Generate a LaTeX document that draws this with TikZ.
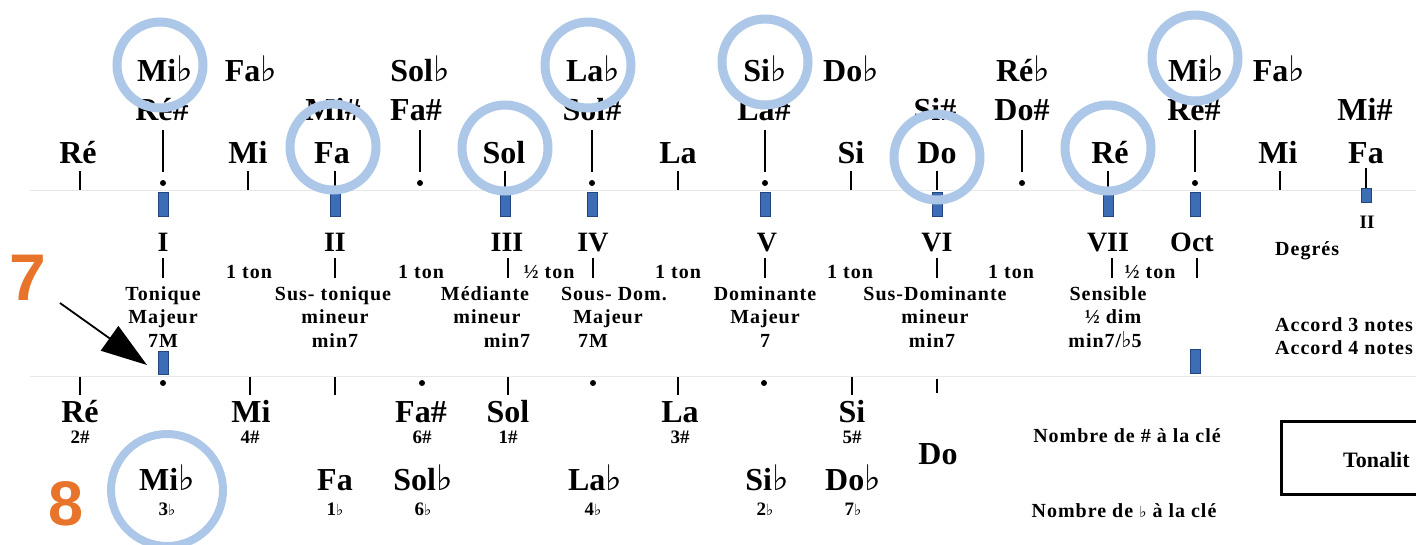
\documentclass[tikz,border=0pt]{standalone}
\usepackage{fontspec}
\setmainfont{Liberation Serif}
\newfontfamily\symf[Scale=1.1]{DejaVu Sans}
\newfontfamily\labf[LetterSpace=5]{Liberation Serif}
\newfontfamily\orf{Liberation Sans}
\usetikzlibrary{arrows.meta}
\definecolor{ringc}{HTML}{ADC7E8}
\definecolor{bluebar}{HTML}{3D6DB5}
\definecolor{bluebd}{HTML}{23457F}
\definecolor{orng}{HTML}{E8732A}
\newcommand\flt{{\symf\bfseries ♭}}
\newcommand\fls{{\symf\bfseries\fontsize{14}{15}\selectfont ♭}}
\begin{document}
\begin{tikzpicture}[x=1pt,y=-1pt,
  nt/.style={font=\bfseries\fontsize{32}{34}\selectfont, anchor=base, inner sep=0pt},
  deg/.style={font=\bfseries\fontsize{28}{30}\selectfont, anchor=base, inner sep=0pt},
  lbl/.style={font=\labf\bfseries\fontsize{20}{22}\selectfont, anchor=base, inner sep=0pt},
  lblw/.style={font=\labf\bfseries\fontsize{20}{22}\selectfont, anchor=base west, inner sep=0pt},
  subl/.style={font=\bfseries\fontsize{19}{20}\selectfont, anchor=base, inner sep=0pt},
  ring/.style={circle, draw=ringc, line width=9pt, inner sep=0pt, minimum size=86pt},
  bbar/.style={rectangle, fill=bluebar, draw=bluebd, line width=0.8pt, inner sep=0pt, minimum width=10pt, minimum height=24pt},
  tick/.style={line width=2.6pt},
  thinl/.style={line width=1.3pt},
  sep/.style={draw=black!9, line width=1pt},
  big/.style={font=\orf\bfseries\fontsize{66}{66}\selectfont, text=orng, anchor=base, inner sep=0pt}
]
\useasboundingbox (0,0) rectangle (1416,544);
\clip (0,0) rectangle (1416,544);
\fill[white] (0,0) rectangle (1416,544);

% faint strip separators
\draw[sep] (30,190) -- (1416,190);
\draw[sep] (30,376) -- (1416,376);

% top row (flats)
\node[nt] (t1) at (165,81) {Mi\flt};
\node[nt] (t2) at (251,81) {Fa\flt};
\node[nt] (t3) at (420,81) {Sol\flt};
\node[nt] (t4) at (593,81) {La\flt};
\node[nt] (t5) at (765,81) {Si\flt};
\node[nt] (t6) at (851,81) {Do\flt};
\node[nt] (t7) at (1023,81) {Ré\flt};
\node[nt] (t8) at (1196,81) {Mi\flt};
\node[nt] (t9) at (1279,81) {Fa\flt};

% second row (sharps)
\node[nt] (s1) at (162,120) {Ré\#};
\node[nt] (s2) at (333,120) {Mi\#};
\node[nt] (s3) at (416,120) {Fa\#};
\node[nt] (s4) at (592,120) {Sol\#};
\node[nt] (s5) at (764,120) {La\#};
\node[nt] (s6) at (935,120) {Si\#};
\node[nt] (s7) at (1022,120) {Do\#};
\node[nt] (s8) at (1194,120) {Ré\#};
\node[nt] (s9) at (1365,120) {Mi\#};

% third row (naturals)
\node[nt] (n1) at (78,163) {Ré};
\node[nt] (n2) at (248,163) {Mi};
\node[nt] (n3) at (332,163) {Fa};
\node[nt] (n4) at (504,163) {Sol};
\node[nt] (n5) at (678,163) {La};
\node[nt] (n6) at (851,163) {Si};
\node[nt] (n7) at (937,163) {Do};
\node[nt] (n8) at (1110,163) {Ré};
\node[nt] (n9) at (1278,163) {Mi};
\node[nt] (n10) at (1366,163) {Fa};

% ticks under naturals
\foreach \x in {80,248,335,505,678,851,937,1108,1280}
  \draw[tick] (\x,171) -- (\x,190);
\draw[tick] (1366,168) -- (1366,188);
% thin lines + dots under sharps
\foreach \x in {163,420,592,765,1022,1195}{
  \draw[thinl] (\x,130) -- (\x,172);
  \fill (\x,183) circle[radius=3pt];
}
% blue bars
\foreach \x in {163,335,505,592,765,937,1108,1195}
  \node[bbar] at (\x,204) {};
\node[bbar, minimum height=14pt] (bfa) at (1366,195) {};

% rings
\node[ring] (c1) at (160,65) {};
\node[ring] (c2) at (333,147) {};
\node[ring] (c3) at (505,148) {};
\node[ring] (c4) at (588,65) {};
\node[ring] (c5) at (765,62) {};
\node[ring] (c6) at (937,157) {};
\node[ring] (c7) at (1108,148) {};
\node[ring] (c8) at (1195,58) {};

% degrees
\node[deg] (d1) at (163,251) {I};
\node[deg] (d2) at (335,251) {II};
\node[deg] (d3) at (507,251) {III};
\node[deg] (d4) at (593,251) {IV};
\node[deg] (d5) at (767,251) {V};
\node[deg] (d6) at (937,251) {VI};
\node[deg] (d7) at (1108,251) {VII};
\node[deg] (d8) at (1192,251) {Oct};
\node[subl] (d9) at (1367,228) {II};
\node[lblw] (degres) at (1275,255) {Degrés};

% interval bars
\foreach \x in {163,335,508,593,765,937,1112,1197}
  \draw[tick] (\x,258) -- (\x,278);
\node[lbl] (i1) at (249,278) {1 ton};
\node[lbl] (i2) at (421,278) {1 ton};
\node[lbl] (i3) at (549,278) {½ ton};
\node[lbl] (i4) at (678,278) {1 ton};
\node[lbl] (i5) at (850,278) {1 ton};
\node[lbl] (i6) at (1011,278) {1 ton};
\node[lbl] (i7) at (1150,278) {½ ton};

% function names
\node[lbl] (f1) at (163,300) {Tonique};
\node[lbl] (f2) at (333,300) {Sus- tonique};
\node[lbl] (f3) at (485,300) {Médiante};
\node[lbl] (f4) at (614,300) {Sous- Dom.};
\node[lbl] (f5) at (765,300) {Dominante};
\node[lbl] (f6) at (935,300) {Sus-Dominante};
\node[lbl] (f7) at (1108,300) {Sensible};

\node[lbl] (g1) at (163,323) {Majeur};
\node[lbl] (g2) at (335,323) {mineur};
\node[lbl] (g3) at (487,323) {mineur};
\node[lbl] (g4) at (608,323) {Majeur};
\node[lbl] (g5) at (765,323) {Majeur};
\node[lbl] (g6) at (935,323) {mineur};
\node[lbl] (g7) at (1113,323) {½ dim};

\node[lbl] (h1) at (163,347) {7M};
\node[lbl] (h2) at (335,347) {min7};
\node[lbl] (h3) at (507,347) {min7};
\node[lbl] (h4) at (593,347) {7M};
\node[lbl] (h5) at (765,347) {7};
\node[lbl] (h6) at (932,347) {min7};
\node[lbl] (h7) at (1105,347) {min7/{\symf\mdseries ♭}5};

\node[lblw] (acc3) at (1275,331) {Accord 3 notes};
\node[lblw] (acc4) at (1275,354) {Accord 4 notes};

% orange numbers and arrow
\node[big] (seven) at (28,300) {7};
\node[big, font=\orf\bfseries\fontsize{63}{63}\selectfont] (eight) at (66,525) {8};
\coordinate (astart) at (60,303);
\coordinate (aend) at (147,365);
\draw[line width=1.8pt, -{Triangle[length=46pt,width=30pt]}] (astart) -- (aend);

% bottom strip
\node[bbar, minimum height=23pt] (bb1) at (163,363) {};
\node[bbar] (bb2) at (1195,361) {};
\foreach \x in {163,422,593,764}
  \fill (\x,383) circle[radius=3pt];
\foreach \x in {80,250,335,508,678,852}
  \draw[tick] (\x,377) -- (\x,395);
\draw[tick] (937,379) -- (937,393);

\node[nt] (b1) at (80,422) {Ré};
\node[nt] (b2) at (251,422) {Mi};
\node[nt] (b3) at (421,422) {Fa\#};
\node[nt] (b4) at (508,422) {Sol};
\node[nt] (b5) at (680,422) {La};
\node[nt] (b6) at (852,422) {Si};
\node[subl] (bs1) at (80,443) {2\#};
\node[subl] (bs2) at (250,443) {4\#};
\node[subl] (bs3) at (422,443) {6\#};
\node[subl] (bs4) at (508,443) {1\#};
\node[subl] (bs5) at (680,443) {3\#};
\node[subl] (bs6) at (852,443) {5\#};

\node[nt] (e1) at (167,490) {Mi\flt};
\node[nt] (e2) at (335,490) {Fa};
\node[nt] (e3) at (423,490) {Sol\flt};
\node[nt] (e4) at (595,490) {La\flt};
\node[nt] (e5) at (767,490) {Si\flt};
\node[nt] (e6) at (853,490) {Do\flt};
\node[subl] (es1) at (167,515) {3\fls};
\node[subl] (es2) at (335,515) {1\fls};
\node[subl] (es3) at (423,515) {6\fls};
\node[subl] (es4) at (593,515) {4\fls};
\node[subl] (es5) at (765,515) {2\fls};
\node[subl] (es6) at (853,515) {7\fls};
\node[nt] (do) at (938,464) {Do};

\node[ring, minimum size=112pt, line width=8pt] (cb) at (167,490) {};

\node[lbl] (nb1) at (1127,442) {Nombre de \# à la clé};
\node[lbl] (nb2) at (1124,517) {Nombre de \fls\ à la clé};

\node[draw, line width=2.5pt, rectangle, minimum width=200pt, minimum height=73pt, anchor=north west, inner sep=0pt] (box) at (1280,420) {};
\node[font=\bfseries\fontsize{22}{24}\selectfont, anchor=base west, inner sep=0pt] (ton) at (1343,467) {Tonalit};
\end{tikzpicture}
\end{document}
